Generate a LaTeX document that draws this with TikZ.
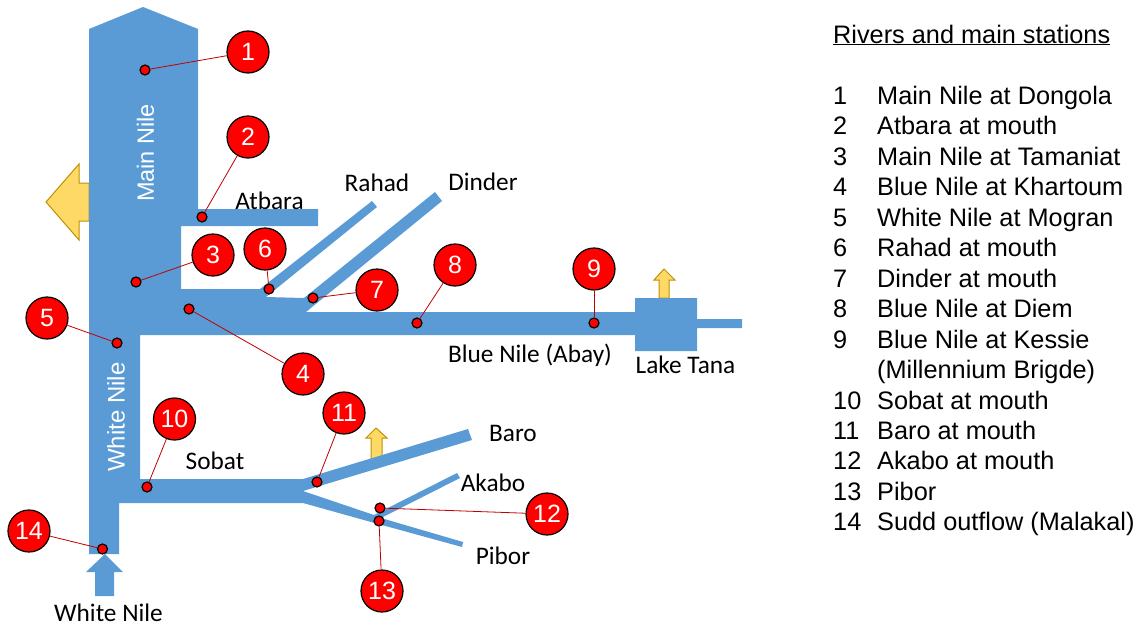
\documentclass[tikz,border=0pt]{standalone}
\usepackage{fontspec}
\setmainfont{Liberation Sans}
\newfontfamily\labelfont{Carlito}
\usetikzlibrary{positioning}
\definecolor{river}{HTML}{5B9BD5}
\definecolor{flow}{HTML}{FFD966}
\definecolor{flowline}{HTML}{BF9000}
\definecolor{leaderline}{HTML}{C00000}

\begin{document}
\begin{tikzpicture}[x=1pt, y=-1pt, node distance=7.05pt,
        station/.style={circle, draw=black, fill=red, line width=1.2pt, minimum size=42pt, inner sep=0pt, text=white, font=\fontsize{25}{25}\selectfont},
        gauge/.style={circle, draw=black, fill=red, line width=1.2pt, minimum size=10pt, inner sep=0pt},
        leader/.style={draw=leaderline, line width=0.8pt},
        riverlabel/.style={font=\labelfont\fontsize{25.3}{25}\selectfont, inner sep=0pt},
        innerlabel/.style={font=\fontsize{24}{24}\selectfont, text=white, rotate=90, inner sep=0pt},
        listnum/.style={font=\fontsize{25.3}{25}\selectfont, inner sep=0pt, text height=18pt, text depth=5pt, anchor=west},
        offtake/.style={fill=flow, draw=flowline, line width=1pt}]
    \useasboundingbox (0,0) rectangle (1142,626);
    % abstractions
    \filldraw[offtake] (89,183) -- (79,183) -- (79,164) -- (46,202) -- (79,240) -- (79,221) -- (89,221) -- cycle;
    \filldraw[offtake] (659,298) -- (659,280) -- (654,280) -- (664,269) -- (675,280) -- (669,280) -- (669,298) -- cycle;
    \filldraw[offtake] (371,465) -- (371,438) -- (366,438) -- (376,428) -- (387,438) -- (382,438) -- (382,465) -- cycle;
    % river network
    \fill[river] (143,7) -- (198,29) -- (198,209) -- (318,209) -- (318,226) -- (181,226) -- (181,289)
        -- (260,289) -- (372,201) -- (377,207) -- (266,297) -- (304,298) -- (435,192) -- (442,201) -- (306,312)
        -- (635,312) -- (635,298) -- (697,298) -- (697,319) -- (742,319) -- (742,328) -- (697,328) -- (697,351)
        -- (635,351) -- (635,335) -- (140,335) -- (140,479) -- (303,479) -- (468,429) -- (472,440) -- (303,491)
        -- (374,515) -- (457,473) -- (460,478) -- (381,518) -- (463,542) -- (462,547) -- (371,522) -- (303,503)
        -- (119,503) -- (119,554) -- (89,554) -- (89,29) -- cycle;
    \fill[river] (105,554) -- (123,572) -- (114,572) -- (114,596) -- (95,596) -- (95,572) -- (86,572) -- cycle;
    % rivers
    \node[innerlabel, font=\fontsize{23.5}{24}\selectfont](main) at (145.5,153) {Main Nile};
    \node[innerlabel](white) at (116,417) {White Nile};
    \node[riverlabel](atbara) at (269.5,201) {Atbara};
    \node[riverlabel](rahad) at (377,183) {Rahad};
    \node[riverlabel](dinder) at (483,182) {Dinder};
    \node[riverlabel](blue) at (530,355) {Blue Nile (Abay)};
    \node[riverlabel](tana) at (685.5,365) {Lake Tana};
    \node[riverlabel](baro) at (513,433) {Baro};
    \node[riverlabel](akabo) at (493,483) {Akabo};
    \node[riverlabel](sobat) at (215,461) {Sobat};
    \node[riverlabel](pibor) at (503,556) {Pibor};
    \node[riverlabel](inflow) at (108.5,613) {White Nile};
    % stations
    \node[station](s_1) at (248,52) {1};
    \node[station](s_2) at (248,137) {2};
    \node[station](s_3) at (213,255) {3};
    \node[station](s_4) at (303,374) {4};
    \node[station](s_5) at (47,318) {5};
    \node[station](s_6) at (265,249) {6};
    \node[station](s_7) at (377,290) {7};
    \node[station](s_8) at (455,265) {8};
    \node[station](s_9) at (594,269) {9};
    \node[station](s_10) at (174.5,419) {10};
    \node[station](s_11) at (344,413) {11};
    \node[station](s_12) at (547,514) {12};
    \node[station](s_13) at (382,591) {13};
    \node[station](s_14) at (29,531) {14};
    \node[gauge](g_1) at (145,70) {};
    \node[gauge](g_2) at (202,217) {};
    \node[gauge](g_3) at (136,282) {};
    \node[gauge](g_4) at (189,309) {};
    \node[gauge](g_5) at (117,343) {};
    \node[gauge](g_6) at (269,289) {};
    \node[gauge](g_7) at (313,298) {};
    \node[gauge](g_8) at (417,323) {};
    \node[gauge](g_9) at (594,323) {};
    \node[gauge](g_10) at (147,487) {};
    \node[gauge](g_11) at (317,482) {};
    \node[gauge](g_12) at (380,508) {};
    \node[gauge](g_13) at (379,521) {};
    \node[gauge](g_14) at (102.5,549) {};
    \path[leader]
        (g_1) edge (s_1)
        (g_2) edge (s_2)
        (g_3) edge (s_3)
        (g_4) edge (s_4)
        (g_5) edge (s_5)
        (g_6) edge (s_6)
        (g_7) edge (s_7)
        (g_8) edge (s_8)
        (g_9) edge (s_9)
        (g_10) edge (s_10)
        (g_11) edge (s_11)
        (g_12) edge (s_12)
        (g_13) edge (s_13)
        (g_14) edge (s_14);
    % list of stations
    \node[riverlabel, font=\fontsize{25.3}{25}\selectfont, anchor=west](title) at (833,35) {\underline{Rivers and main stations}};
    \node[listnum](n_1) at (833,98) {1};
    \node[listnum](n_2)[below=of n_1.south west, anchor=north west] {2};
    \node[listnum](n_3)[below=of n_2.south west, anchor=north west] {3};
    \node[listnum](n_4)[below=of n_3.south west, anchor=north west] {4};
    \node[listnum](n_5)[below=of n_4.south west, anchor=north west] {5};
    \node[listnum](n_6)[below=of n_5.south west, anchor=north west] {6};
    \node[listnum](n_7)[below=of n_6.south west, anchor=north west] {7};
    \node[listnum](n_8)[below=of n_7.south west, anchor=north west] {8};
    \node[listnum](n_9)[below=of n_8.south west, anchor=north west] {9};
    \node[listnum](n_9b)[below=of n_9.south west, anchor=north west] {\phantom{9}};
    \node[listnum](n_10)[below=of n_9b.south west, anchor=north west] {10};
    \node[listnum](n_11)[below=of n_10.south west, anchor=north west] {11};
    \node[listnum](n_12)[below=of n_11.south west, anchor=north west] {12};
    \node[listnum](n_13)[below=of n_12.south west, anchor=north west] {13};
    \node[listnum](n_14)[below=of n_13.south west, anchor=north west] {14};
    \node[listnum](l_1) at ([xshift=44pt]n_1.west) {Main Nile at Dongola};
    \node[listnum](l_2) at ([xshift=44pt]n_2.west) {Atbara at mouth};
    \node[listnum](l_3) at ([xshift=44pt]n_3.west) {Main Nile at Tamaniat};
    \node[listnum](l_4) at ([xshift=44pt]n_4.west) {Blue Nile at Khartoum};
    \node[listnum](l_5) at ([xshift=44pt]n_5.west) {White Nile at Mogran};
    \node[listnum](l_6) at ([xshift=44pt]n_6.west) {Rahad at mouth};
    \node[listnum](l_7) at ([xshift=44pt]n_7.west) {Dinder at mouth};
    \node[listnum](l_8) at ([xshift=44pt]n_8.west) {Blue Nile at Diem};
    \node[listnum](l_9) at ([xshift=44pt]n_9.west) {Blue Nile at Kessie};
    \node[listnum](l_9b) at ([xshift=44pt]n_9b.west) {(Millennium Brigde)};
    \node[listnum](l_10) at ([xshift=44pt]n_10.west) {Sobat at mouth};
    \node[listnum](l_11) at ([xshift=44pt]n_11.west) {Baro at mouth};
    \node[listnum](l_12) at ([xshift=44pt]n_12.west) {Akabo at mouth};
    \node[listnum](l_13) at ([xshift=44pt]n_13.west) {Pibor};
    \node[listnum](l_14) at ([xshift=44pt]n_14.west) {Sudd outflow (Malakal)};
\end{tikzpicture}
\end{document}
